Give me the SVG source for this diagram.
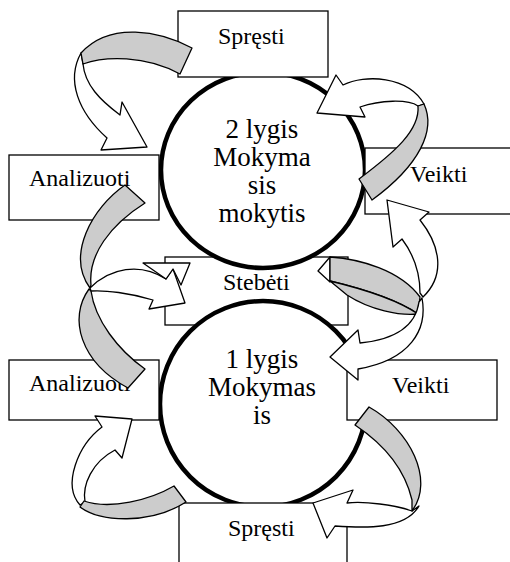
<svg xmlns="http://www.w3.org/2000/svg" width="510" height="562" viewBox="0 0 510 562">
  <style>
    .box { fill: #fff; stroke: #000; stroke-width: 1.3; }
    .ring { fill: #fff; stroke: #000; stroke-width: 4.5; }
    .face { fill: #fff; stroke: #000; stroke-width: 1.3; stroke-linejoin: round; }
    .back { fill: #ccc; stroke: #000; stroke-width: 1.3; stroke-linejoin: round; }
    .lbl { font-family: 'Liberation Serif', 'DejaVu Serif', serif; font-size: 24px; fill: #000; }
    .core { font-family: 'Liberation Serif', 'DejaVu Serif', serif; font-size: 27px; text-anchor: middle; fill: #000; }
  </style>
  <rect width="510" height="562" fill="#fff"/>

  <!-- shared observation step sits behind both cycles -->
  <g id="stebeti">
    <rect class="box" x="165" y="257" width="183" height="68"/>
  </g>

  <!-- the two learning loops -->
  <g id="level2">
    <ellipse class="ring" cx="263" cy="170" rx="102" ry="98"/>
    <text class="core" x="262" y="138">2 lygis</text>
    <text class="core" x="262" y="166">Mokyma</text>
    <text class="core" x="262" y="194">sis</text>
    <text class="core" x="262" y="222">mokytis</text>
  </g>
  <g id="level1">
    <ellipse class="ring" cx="263" cy="404" rx="103" ry="103"/>
    <text class="core" x="262" y="368">1 lygis</text>
    <text class="core" x="262" y="396">Mokymas</text>
    <text class="core" x="262" y="424">is</text>
  </g>
  <text class="lbl" x="223" y="290">Stebėti</text>

  <!-- steps of the upper loop -->
  <g id="spresti2">
    <rect class="box" x="178" y="11" width="150" height="66"/>
    <text class="lbl" x="218" y="44">Spręsti</text>
  </g>
  <g id="analizuoti2">
    <rect class="box" x="9" y="155" width="150" height="65"/>
    <text class="lbl" x="29" y="186">Analizuoti</text>
  </g>
  <g id="veikti2">
    <rect class="box" x="365" y="148" width="160" height="66"/>
    <text class="lbl" x="410" y="182">Veikti</text>
  </g>

  <!-- steps of the lower loop -->
  <g id="analizuoti1">
    <rect class="box" x="9" y="360" width="150" height="60"/>
    <text class="lbl" x="29" y="391">Analizuoti</text>
  </g>
  <g id="veikti1">
    <rect class="box" x="347" y="360" width="150" height="60"/>
    <text class="lbl" x="392" y="393">Veikti</text>
  </g>
  <g id="spresti1">
    <rect class="box" x="179" y="503" width="168" height="70"/>
    <text class="lbl" x="228" y="536">Spręsti</text>
  </g>

  <!-- twisted ribbon arrows between the steps -->
  <g id="connectors">
    <!-- Spręsti -> Analizuoti (upper loop) -->
    <path class="face" d="M81,53 C66,80 78,112 107,138 L101,150 L147,147 L122,102 L120,115 C100,100 85,85 83,64 Z"/>
    <path class="back" d="M192,48 C160,31 110,21 81,53 L83,64 C105,56 145,55 180,74 Z"/>

    <!-- Veikti -> level 2 (upper right) -->
    <path class="face" d="M343,85 C365,74 408,76 424,104 L418,106 C408,99 380,100 360,107 L365,117 L317,113 L336,75 Z"/>
    <path class="back" d="M424,104 C436,130 420,165 372,200 L359,179 C395,152 420,130 418,106 Z"/>

    <!-- Analizuoti -> Stebėti (left middle) -->
    <path class="back" d="M125,185 C92,208 66,255 90,288 L91,285 C88,255 110,225 145,203 Z"/>
    <path class="back" d="M89,289 C68,318 80,362 128,388 L145,369 C118,350 95,320 91,291 Z"/>
    <path class="face" d="M90,288 C110,268 140,262 166,279 L173,269 L185,303 L149,309 L153,300 C130,293 105,290 91,291 Z"/>
    <path class="face" d="M143,263 L190,263 L181,285 L173,269 L166,279 Z"/>

    <!-- Stebėti -> Veikti / level 1 (right middle) -->
    <path class="face" d="M330,257 L318,271 L330,282 Z"/>
    <path class="back" d="M330,257 C360,259 400,270 420,297 L418,314 C405,305 380,293 330,281 Z"/>
    <path class="back" d="M330,281 C380,293 405,305 418,314 C400,316 370,310 347,295 Z"/>
    <path class="face" d="M387,200 L429,212 L420,220 C440,245 446,275 423,297 L420,293 C420,275 414,255 402,239 L393,247 Z"/>
    <path class="face" d="M330,357 L358,330 L360,343 C390,340 415,330 419,302 L422,298 C428,330 410,360 358,369 L358,380 Z"/>

    <!-- Spręsti -> Analizuoti (lower loop) -->
    <path class="face" d="M102,427 C78,445 62,485 80,505 L85,502 C82,485 92,462 115,450 L122,458 L132,419 L95,416 Z"/>
    <path class="back" d="M174,486 C150,500 110,510 84,501 L80,507 C100,522 150,525 186,502 Z"/>

    <!-- Veikti -> Spręsti (lower loop) -->
    <path class="face" d="M412,511 C395,505 365,501 347,503 L353,490 L313,503 L327,538 L335,526 C365,528 405,530 419,506 Z"/>
    <path class="back" d="M369,407 C410,430 435,480 412,511 L412,500 C405,470 385,445 355,425 Z"/>
  </g>
</svg>
